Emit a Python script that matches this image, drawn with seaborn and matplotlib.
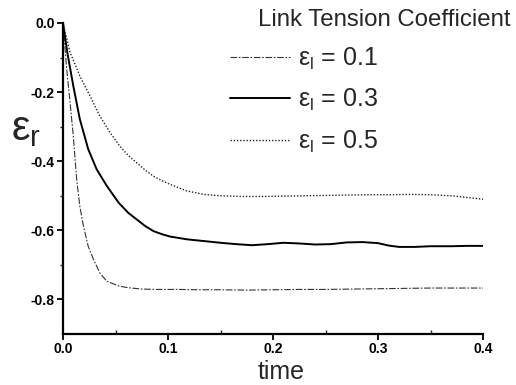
import matplotlib
matplotlib.use("Agg")
import matplotlib.pyplot as plt
import seaborn as sns
import pandas as pd

sns.set_theme(style="ticks")
plt.rcParams['font.family'] = ['Liberation Sans', 'DejaVu Sans']
plt.rcParams['mathtext.fontset'] = 'custom'
plt.rcParams['mathtext.rm'] = 'Liberation Sans'
plt.rcParams['mathtext.it'] = 'Liberation Sans'

# ---- data ----
t_01 = [0.0, 0.0035, 0.0067, 0.0098, 0.013, 0.016, 0.0194, 0.024, 0.029, 0.035, 0.0416,
        0.053, 0.062, 0.075, 0.09, 0.11, 0.13, 0.15, 0.175, 0.2, 0.225, 0.25, 0.275, 0.3,
        0.325, 0.35, 0.375, 0.4]
e_01 = [0.0, -0.133, -0.229, -0.327, -0.452, -0.53, -0.587, -0.646, -0.684, -0.723, -0.747,
        -0.761, -0.766, -0.77, -0.771, -0.771, -0.772, -0.772, -0.773, -0.772, -0.771, -0.771,
        -0.770, -0.769, -0.768, -0.767, -0.767, -0.767]

t_03 = [0.0, 0.0041, 0.0098, 0.016, 0.024, 0.032, 0.0416, 0.053, 0.062, 0.070, 0.078, 0.086,
        0.094, 0.102, 0.118, 0.134, 0.15, 0.165, 0.18, 0.195, 0.21, 0.225, 0.24, 0.255, 0.27,
        0.285, 0.3, 0.31, 0.32, 0.335, 0.35, 0.37, 0.385, 0.4]
e_03 = [0.0, -0.085, -0.182, -0.278, -0.365, -0.423, -0.471, -0.52, -0.549, -0.568, -0.587,
        -0.602, -0.611, -0.618, -0.626, -0.631, -0.636, -0.640, -0.643, -0.640, -0.636, -0.638,
        -0.641, -0.640, -0.635, -0.634, -0.637, -0.644, -0.648, -0.648, -0.646, -0.646, -0.645,
        -0.645]

t_05 = [0.0, 0.0067, 0.016, 0.0257, 0.035, 0.0448, 0.054, 0.062, 0.070, 0.078, 0.086, 0.094,
        0.102, 0.118, 0.134, 0.15, 0.17, 0.19, 0.21, 0.23, 0.25, 0.27, 0.29, 0.31, 0.33, 0.35,
        0.37, 0.385, 0.4]
e_05 = [0.0, -0.085, -0.153, -0.211, -0.269, -0.317, -0.356, -0.383, -0.404, -0.425, -0.443,
        -0.456, -0.467, -0.486, -0.496, -0.5, -0.502, -0.502, -0.501, -0.500, -0.499, -0.498,
        -0.497, -0.497, -0.496, -0.497, -0.5, -0.505, -0.51]

labels = ["ε$_\\mathregular{l}$ = 0.1", "ε$_\\mathregular{l}$ = 0.3", "ε$_\\mathregular{l}$ = 0.5"]
x_ticks = [0.0, 0.1, 0.2, 0.3, 0.4]
x_ticklabels = ["0.0", "0.1", "0.2", "0.3", "0.4"]
y_ticks = [0.0, -0.2, -0.4, -0.6, -0.8]
y_ticklabels = ["0.0", "-0.2", "-0.4", "-0.6", "-0.8"]
legend_title = "Link Tension Coefficient"

df1 = pd.DataFrame({"time": t_01, "eps": e_01})
df3 = pd.DataFrame({"time": t_03, "eps": e_03})
df5 = pd.DataFrame({"time": t_05, "eps": e_05})

fig = plt.figure(figsize=(5.16, 3.85), dpi=100)
ax = fig.add_axes([63/516, 1-334/385, 420/516, 311/385])

sns.lineplot(data=df1, x="time", y="eps", ax=ax, color="#333333", linewidth=0.8,
             linestyle=(0, (6, 1.5, 1.5, 1.5)), label=labels[0])
sns.lineplot(data=df3, x="time", y="eps", ax=ax, color="black", linewidth=1.4,
             linestyle="-", label=labels[1])
sns.lineplot(data=df5, x="time", y="eps", ax=ax, color="#222222", linewidth=1.0,
             linestyle=(0, (1, 1.3)), label=labels[2])

ax.set_xlim(0.0, 0.4)
ax.set_ylim(-0.9, 0.0)
ax.set_xticks(x_ticks)
ax.set_xticklabels(x_ticklabels)
ax.set_yticks(y_ticks)
ax.set_yticklabels(y_ticklabels)
ax.set_xticks([0.05, 0.15, 0.25, 0.35], minor=True)
ax.set_yticks([-0.1, -0.3, -0.5, -0.7], minor=True)
for lab in ax.get_xticklabels() + ax.get_yticklabels():
    lab.set_fontweight("bold")
    lab.set_fontsize(10)
ax.tick_params(axis="both", which="major", direction="out", length=4, width=1.3, pad=2, colors="black")
ax.tick_params(axis="x", which="minor", direction="in", length=3, width=1.0)
ax.tick_params(axis="y", which="minor", direction="out", length=2.5, width=1.0)

sns.despine(ax=ax)
for s in ["left", "bottom"]:
    ax.spines[s].set_linewidth(1.6)
    ax.spines[s].set_color("black")

ax.set_xlabel("time", fontsize=18, va="center")
ax.xaxis.set_label_coords(0.519, -0.122)
ax.set_ylabel("ε$_\\mathregular{r}$", fontsize=30, rotation=0, va="center", ha="center")
ax.yaxis.set_label_coords(-0.088, 0.66)

leg = ax.legend(loc="upper left", bbox_to_anchor=(230/516, 1-46/385), bbox_transform=fig.transFigure,
                frameon=False, fontsize=18, handlelength=2.4, handletextpad=0.3,
                labelspacing=0.6, borderpad=0, borderaxespad=0)
fig.text(258/516, 1-20/385, legend_title, fontsize=17.3, va="center", ha="left")

fig.savefig("out.png", dpi=100)
